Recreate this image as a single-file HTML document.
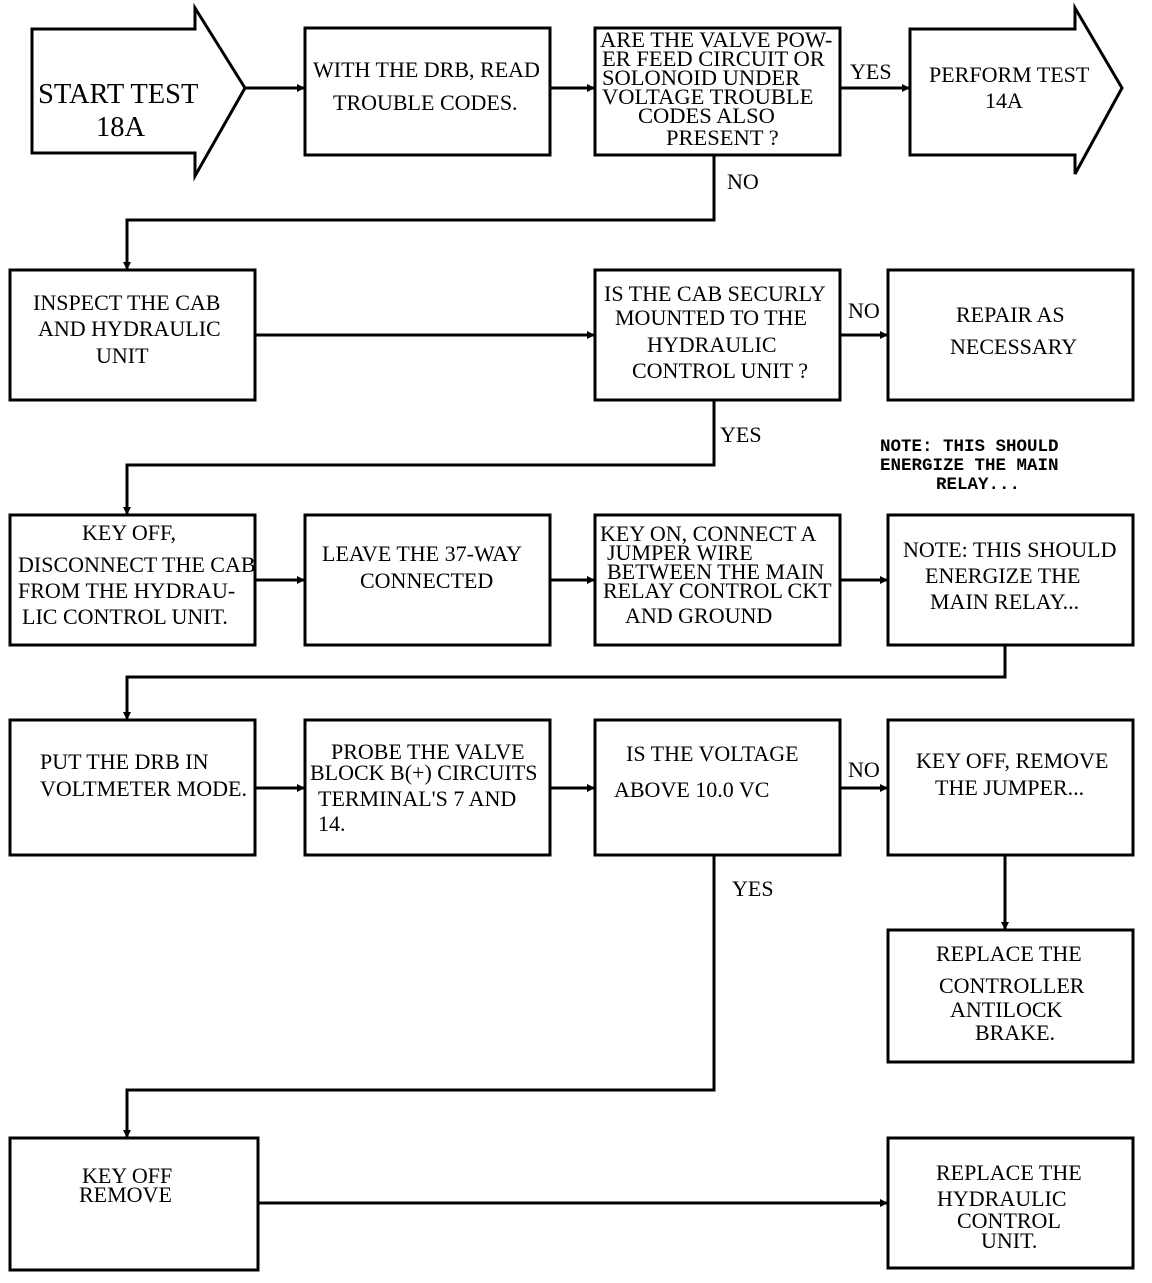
<!DOCTYPE html>
<html><head><meta charset="utf-8"><style>
html,body{margin:0;padding:0;background:#fff}
svg text{font-family:"Liberation Serif",serif;font-size:22px;fill:#000}
.m{font-family:"Liberation Mono",monospace;font-weight:bold;font-size:17.5px}
</style></head><body>
<svg width="1152" height="1278" viewBox="0 0 1152 1278" xmlns="http://www.w3.org/2000/svg">
<defs><marker id="a" markerWidth="8" markerHeight="8" refX="7" refY="4" orient="auto" markerUnits="userSpaceOnUse"><path d="M0,0 L8,4 L0,8 z" fill="#000"/></marker></defs>
<g fill="none" stroke="#000" stroke-width="3">
<path d="M32,29 H195 V8 L245,88 L195,176 V153 H32 Z"/>
<rect x="305" y="28" width="245" height="127"/>
<rect x="595" y="28" width="245" height="127"/>
<path d="M910,29 H1075 V8 L1122,88 L1075,174 V155 H910 Z"/>
<rect x="10" y="270" width="245" height="130"/>
<rect x="595" y="270" width="245" height="130"/>
<rect x="888" y="270" width="245" height="130"/>
<rect x="10" y="515" width="245" height="130"/>
<rect x="305" y="515" width="245" height="130"/>
<rect x="595" y="515" width="245" height="130"/>
<rect x="888" y="515" width="245" height="130"/>
<rect x="10" y="720" width="245" height="135"/>
<rect x="305" y="720" width="245" height="135"/>
<rect x="595" y="720" width="245" height="135"/>
<rect x="888" y="720" width="245" height="135"/>
<rect x="888" y="930" width="245" height="132"/>
<rect x="10" y="1138" width="248" height="132"/>
<rect x="888" y="1138" width="245" height="130"/>
<g marker-end="url(#a)">
<path d="M245,88 H304"/><path d="M550,88 H594"/><path d="M840,88 H909"/>
<path d="M714,155 V220 H127 V269"/>
<path d="M255,335 H594"/><path d="M840,335 H887"/>
<path d="M714,400 V465 H127 V514"/>
<path d="M255,580 H304"/><path d="M550,580 H594"/><path d="M840,580 H887"/>
<path d="M1005,645 V677 H127 V719"/>
<path d="M255,788 H304"/><path d="M550,788 H594"/><path d="M840,788 H887"/>
<path d="M1005,855 V929"/>
<path d="M714,855 V1090 H127 V1137"/>
<path d="M258,1203 H887"/>
</g></g>
<text x="38" y="103" style="font-size:28.5px">START TEST</text>
<text x="96" y="136" style="font-size:28.5px">18A</text>
<text x="313" y="77">WITH THE DRB, READ</text>
<text x="333" y="110">TROUBLE CODES.</text>
<text x="600" y="47" style="font-size:22.5px">ARE THE VALVE POW-</text>
<text x="602" y="66" style="font-size:22.5px">ER FEED CIRCUIT  OR</text>
<text x="602" y="85" style="font-size:22.5px">SOLONOID  UNDER</text>
<text x="602" y="104" style="font-size:22.5px">VOLTAGE  TROUBLE</text>
<text x="638" y="123" style="font-size:22.5px">CODES ALSO</text>
<text x="666" y="145" style="font-size:22.5px">PRESENT ?</text>
<text x="850" y="79">YES</text>
<text x="929" y="82">PERFORM TEST</text>
<text x="985" y="108">14A</text>
<text x="727" y="189">NO</text>
<text x="33" y="310">INSPECT THE CAB</text>
<text x="38" y="336">AND HYDRAULIC</text>
<text x="96" y="363">UNIT</text>
<text x="604" y="301">IS THE CAB SECURLY</text>
<text x="615" y="325">MOUNTED TO THE</text>
<text x="647" y="352">HYDRAULIC</text>
<text x="632" y="378">CONTROL  UNIT ?</text>
<text x="848" y="318">NO</text>
<text x="956" y="322">REPAIR AS</text>
<text x="950" y="354">NECESSARY</text>
<text x="720" y="442">YES</text>
<text class="m" x="880" y="451">NOTE: THIS SHOULD</text>
<text class="m" x="880" y="470">ENERGIZE THE MAIN</text>
<text class="m" x="936" y="489">RELAY...</text>
<text x="82" y="540">KEY OFF,</text>
<text x="18" y="572">DISCONNECT THE CAB</text>
<text x="18" y="598">FROM THE HYDRAU-</text>
<text x="22" y="624">LIC CONTROL UNIT.</text>
<text x="322" y="561">LEAVE THE 37-WAY</text>
<text x="360" y="588">CONNECTED</text>
<text x="600" y="541">KEY ON, CONNECT A</text>
<text x="607" y="560">JUMPER WIRE</text>
<text x="607" y="579">BETWEEN THE MAIN</text>
<text x="603" y="598">RELAY CONTROL CKT</text>
<text x="625" y="623">AND GROUND</text>
<text x="903" y="557">NOTE: THIS SHOULD</text>
<text x="925" y="583">ENERGIZE THE</text>
<text x="930" y="609">MAIN RELAY...</text>
<text x="40" y="769">PUT THE DRB IN</text>
<text x="40" y="796">VOLTMETER MODE.</text>
<text x="331" y="759">PROBE THE VALVE</text>
<text x="310" y="780">BLOCK  B(+) CIRCUITS</text>
<text x="318" y="806">TERMINAL'S 7 AND</text>
<text x="318" y="831">14.</text>
<text x="626" y="761">IS THE VOLTAGE</text>
<text x="614" y="797">ABOVE 10.0 VC</text>
<text x="848" y="777">NO</text>
<text x="916" y="768">KEY OFF, REMOVE</text>
<text x="935" y="795">THE JUMPER...</text>
<text x="732" y="896">YES</text>
<text x="936" y="961">REPLACE THE</text>
<text x="939" y="993">CONTROLLER</text>
<text x="950" y="1017">ANTILOCK</text>
<text x="975" y="1040">BRAKE.</text>
<text x="82" y="1183">KEY OFF</text>
<text x="79" y="1202">REMOVE</text>
<text x="936" y="1180">REPLACE THE</text>
<text x="937" y="1206">HYDRAULIC</text>
<text x="957" y="1228">CONTROL</text>
<text x="981" y="1248">UNIT.</text>
</svg>
</body></html>
